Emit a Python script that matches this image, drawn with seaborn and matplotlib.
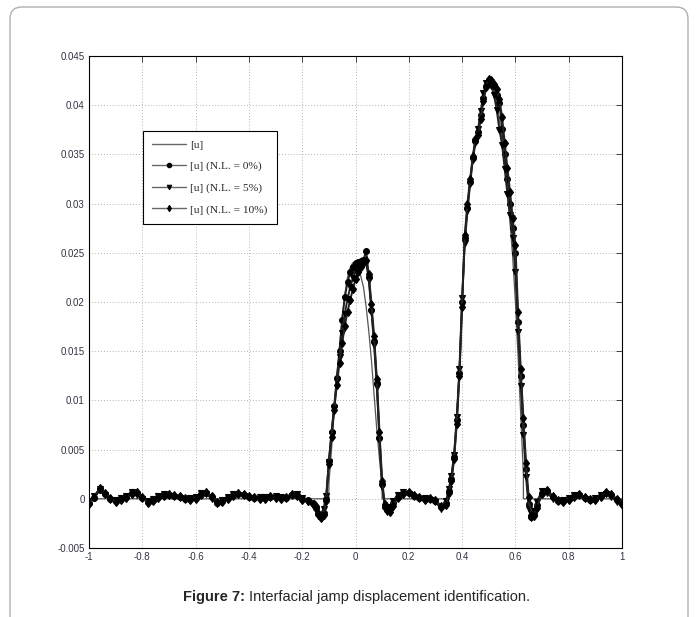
import matplotlib
matplotlib.use("Agg")
import matplotlib.pyplot as plt
import matplotlib.patches as mpatches
import numpy as np
import pandas as pd
import seaborn as sns

# sample positions of the identified jumps (coarse on the flat parts, finer on the bumps)
x_grid = np.round(np.concatenate([
    np.arange(-1.00, -0.159, 0.02),
    np.arange(-0.15, 0.141, 0.01),
    np.arange(0.16, 0.341, 0.02),
    np.arange(0.35, 0.681, 0.01),
    np.arange(0.70, 1.001, 0.02),
]), 3)

# values in 1e-3 units
u_nl0 = [
    -0.4, 0.1, 0.9, 0.5, 0.0, -0.2, 0.0, 0.2, 0.6, 0.6, 0.1, -0.3, -0.1, 0.2, 0.4,
    0.4, 0.3, 0.2, 0.0, 0.0, 0.1, 0.5, 0.6, 0.2, -0.4, -0.2, 0.1, 0.4, 0.5, 0.4,
    0.2, 0.1, 0.1, 0.1, 0.2, 0.2, 0.1, 0.1, 0.4, 0.4, 0.0, -0.1, -0.4,
    -0.9, -1.5, -1.8, -1.4, 0.0, 3.8, 6.8, 9.4, 12.3, 15.0, 18.2, 20.5, 22.0, 23.0, 23.6,
    24.0, 24.1, 24.2, 24.3, 25.2, 22.5, 19.2, 16.0, 11.8, 6.2, 1.5, -0.8, -1.1, -1.0, -0.4,
    0.2, 0.6, 0.6, 0.3, 0.1, 0.0, 0.0, -0.2, -0.8, -0.4,
    0.8, 2.0, 4.2, 8.0, 12.8, 20.0, 26.5, 29.6, 32.2, 34.6, 36.4, 37.3, 39.0, 40.7, 42.0,
    42.6, 42.5, 42.0, 41.0, 40.2, 37.6, 35.0, 32.5, 30.0, 27.5, 25.0, 18.0, 12.5, 7.5, 3.0,
    -0.5, -1.8, -1.5, -0.6,
    0.6, 0.8, 0.2, -0.2, -0.2, 0.0, 0.3, 0.4, 0.1, -0.1, 0.0, 0.3, 0.6, 0.4, -0.1, -0.5,
]
u_nl5 = [
    -0.2, 0.3, 1.0, 0.4, -0.1, -0.1, 0.1, 0.3, 0.7, 0.4, 0.0, -0.2, 0.0, 0.3, 0.5,
    0.3, 0.2, 0.1, -0.1, 0.1, 0.2, 0.6, 0.5, 0.0, -0.5, -0.1, 0.2, 0.5, 0.4, 0.3,
    0.1, 0.0, 0.2, 0.2, 0.1, 0.3, 0.2, 0.0, 0.3, 0.5, 0.1, -0.3, -0.6,
    -1.1, -1.7, -1.6, -1.0, 0.3, 3.7, 6.6, 9.2, 12.0, 14.4, 16.8, 18.8, 20.3, 21.5, 22.4,
    23.1, 23.6, 23.9, 24.1, 24.0, 22.2, 19.0, 15.6, 11.4, 6.0, 1.2, -0.9, -1.3, -0.8, -0.2,
    0.4, 0.7, 0.5, 0.2, 0.0, 0.1, -0.1, -0.3, -1.0, -0.2,
    1.0, 2.3, 4.5, 8.3, 13.2, 20.4, 26.0, 29.2, 32.0, 34.4, 36.2, 37.6, 39.4, 41.2, 42.3,
    42.4, 42.0, 41.0, 39.5, 37.5, 36.0, 33.5, 31.0, 28.8, 26.5, 23.0, 17.0, 11.5, 6.5, 2.2,
    -1.0, -2.0, -1.2, -0.3,
    0.8, 0.6, 0.0, -0.3, -0.1, 0.1, 0.4, 0.3, 0.0, -0.2, 0.1, 0.4, 0.5, 0.2, -0.3, -0.7,
]
u_nl10 = [
    -0.5, 0.2, 1.1, 0.6, 0.1, -0.3, -0.1, 0.1, 0.5, 0.7, 0.2, -0.4, -0.2, 0.1, 0.3,
    0.5, 0.4, 0.3, 0.1, -0.1, 0.0, 0.4, 0.7, 0.3, -0.3, -0.3, 0.0, 0.3, 0.6, 0.5,
    0.3, 0.2, 0.0, 0.0, 0.3, 0.1, 0.0, 0.2, 0.5, 0.3, -0.1, -0.2, -0.5,
    -0.7, -1.4, -2.0, -1.6, -0.2, 3.5, 6.3, 9.0, 11.6, 13.8, 15.8, 17.6, 19.0, 20.2, 21.3,
    22.3, 23.0, 23.6, 24.0, 24.3, 22.8, 19.8, 16.5, 12.2, 6.8, 1.8, -0.5, -1.0, -1.3, -0.7,
    0.1, 0.5, 0.7, 0.4, 0.2, -0.1, 0.1, -0.1, -0.7, -0.6,
    0.6, 1.8, 4.0, 7.6, 12.5, 19.5, 26.8, 30.0, 32.5, 34.8, 36.6, 37.0, 38.6, 40.4, 41.8,
    42.7, 42.6, 42.2, 41.6, 40.6, 38.8, 36.2, 33.6, 31.2, 28.5, 25.8, 19.0, 13.2, 8.2, 3.6,
    0.2, -1.6, -1.7, -0.9,
    0.5, 0.9, 0.3, -0.1, -0.3, -0.1, 0.2, 0.5, 0.2, 0.0, -0.1, 0.2, 0.7, 0.5, 0.0, -0.4,
]

# exact jump [u]
exact_x = [-1.0, -0.10, -0.10, -0.09, -0.08, -0.07, -0.06, -0.05, -0.04, -0.03, -0.02, -0.01,
           0.00, 0.01, 0.02, 0.03, 0.04, 0.05, 0.06, 0.07, 0.08, 0.09, 0.10, 0.10,
           0.35, 0.35, 0.36, 0.37, 0.38, 0.39, 0.40, 0.41, 0.42, 0.43, 0.44, 0.45, 0.46,
           0.47, 0.48, 0.49, 0.50, 0.51, 0.52, 0.53, 0.54, 0.55, 0.56, 0.57, 0.58, 0.59,
           0.60, 0.61, 0.62, 0.63, 0.63, 1.0]
exact_u = [0.0, 0.0, 1.5, 5.0, 9.0, 12.5, 15.5, 18.5, 20.8, 22.5, 23.5, 24.0,
           23.9, 23.5, 22.6, 21.5, 19.5, 17.0, 14.0, 10.5, 7.0, 4.0, 1.3, 0.0,
           0.0, 1.0, 2.5, 4.8, 8.5, 13.5, 20.0, 26.0, 29.5, 32.3, 34.6, 36.3, 37.4,
           39.0, 40.8, 42.0, 42.5, 42.3, 41.5, 40.2, 38.5, 36.5, 34.0, 31.0, 28.0, 24.5,
           20.0, 14.5, 8.5, 2.5, 0.0, 0.0]

labels = ["[u]", "[u] (N.L. = 0%)", "[u] (N.L. = 5%)", "[u] (N.L. = 10%)"]
x_ticks = [-1, -0.8, -0.6, -0.4, -0.2, 0, 0.2, 0.4, 0.6, 0.8, 1]
x_ticklabels = ["-1", "-0.8", "-0.6", "-0.4", "-0.2", "0", "0.2", "0.4", "0.6", "0.8", "1"]
y_ticks = [-0.005, 0, 0.005, 0.01, 0.015, 0.02, 0.025, 0.03, 0.035, 0.04, 0.045]
y_ticklabels = ["-0.005", "0", "0.005", "0.01", "0.015", "0.02", "0.025", "0.03",
                "0.035", "0.04", "0.045"]

sns.set_style("white")
plt.rcParams["font.family"] = ["Liberation Sans", "DejaVu Sans"]

fig = plt.figure(figsize=(6.97, 6.17), dpi=100)
ax = fig.add_axes([89 / 697, 1 - 548 / 617, 533 / 697, 492 / 617])

exact = pd.DataFrame({"x": exact_x, "u": np.array(exact_u) / 1000})
sns.lineplot(data=exact, x="x", y="u", ax=ax, estimator=None, sort=False,
             color="#555555", lw=0.9, label=labels[0])

noisy = pd.DataFrame({"x": x_grid, "nl0": np.array(u_nl0) / 1000,
                      "nl5": np.array(u_nl5) / 1000, "nl10": np.array(u_nl10) / 1000})
for col, lab, mk, ms in [("nl0", labels[1], "o", 4.2), ("nl5", labels[2], "v", 4.4),
                         ("nl10", labels[3], "d", 4.4)]:
    sns.lineplot(data=noisy, x="x", y=col, ax=ax, estimator=None, sort=False,
                 color="#222222", lw=1.4, marker=mk, ms=ms, mfc="black", mec="black",
                 mew=0.8, label=lab)

ax.set_xlim(-1, 1)
ax.set_ylim(-0.005, 0.045)
ax.set_xticks(x_ticks)
ax.set_xticklabels(x_ticklabels)
ax.set_yticks(y_ticks)
ax.set_yticklabels(y_ticklabels)
ax.set_xlabel("")
ax.set_ylabel("")
ax.grid(True, color="#9a9a9a", lw=0.6, ls=(0, (1, 2.5)))
ax.tick_params(direction="in", top=True, right=True, length=4, width=0.6,
               labelsize=7, labelcolor="#333344", pad=3)
for s in ax.spines.values():
    s.set_color("black")
    s.set_linewidth(0.8)

leg = ax.legend(loc="upper left", bbox_to_anchor=(0.101, 0.848), borderaxespad=0,
                fancybox=False, edgecolor="black", framealpha=1, handlelength=3.0,
                labelspacing=1.0, borderpad=0.8, handletextpad=0.35, numpoints=1,
                prop={"family": "Liberation Serif", "size": 8.2})
leg.get_frame().set_linewidth(0.8)
for h in leg.get_lines():
    h.set_color("#666666")
    h.set_linewidth(1.0)
    h.set_markersize(3.2)

# caption and page frame
fig.text(245 / 697, 1 - 597 / 617, "Figure 7:", ha="right", va="center",
         fontsize=10.5, fontweight="bold")
fig.text(249 / 697, 1 - 597 / 617, "Interfacial jamp displacement identification.",
         ha="left", va="center", fontsize=10.5)
frame = mpatches.FancyBboxPatch((10, -20), 678, 630, boxstyle="round,pad=0,rounding_size=12",
                                transform=None, fill=False, edgecolor="#b0b0b0", lw=1.0)
fig.add_artist(frame)

fig.savefig("out.png", dpi=100)
